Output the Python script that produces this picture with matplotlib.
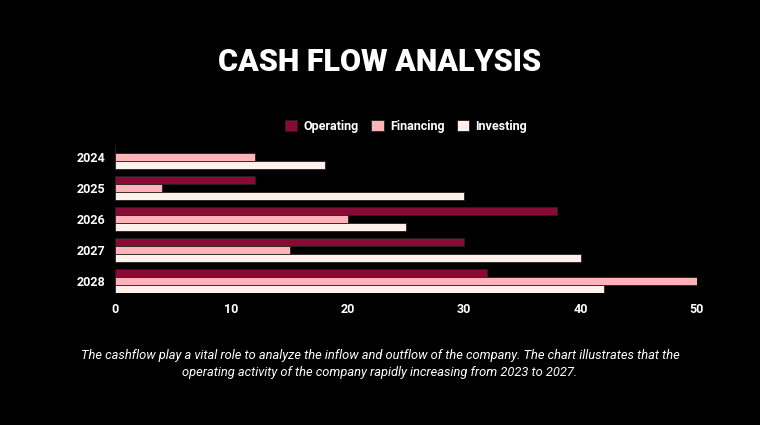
import matplotlib.pyplot as plt
import numpy as np

years = ['2024', '2025', '2026', '2027', '2028']
operating = [0, 12, 38, 30, 32]
financing = [12, 4, 20, 15, 50]
investing = [18, 30, 25, 40, 42]

colors = {'Operating': '#8a0a36', 'Financing': '#ffb3b8', 'Investing': '#fff0ea'}

plt.rcParams['font.family'] = ['Roboto', 'DejaVu Sans']
fig = plt.figure(figsize=(7.6, 4.25), dpi=100, facecolor='black')
ax = fig.add_axes([115 / 760, 1 - 293 / 425, 582 / 760, 148.8 / 425])
ax.set_facecolor('black')

y = np.arange(len(years))
h = 0.26
for off, (name, vals) in zip([-h, 0, h], [('Operating', operating), ('Financing', financing), ('Investing', investing)]):
    ax.barh(y + off, vals, height=h, color=colors[name], edgecolor='#222222', linewidth=0.6, label=name)

ax.set_ylim(4.4, -0.4)
ax.set_xlim(0, 50)
ax.set_yticks(y)
ax.set_yticklabels(years)
ax.set_xticks([0, 10, 20, 30, 40, 50])
ax.tick_params(colors='white', length=0, labelsize=9, pad=7)
for lbl in ax.get_xticklabels() + ax.get_yticklabels():
    lbl.set_fontweight('bold')
for s in ax.spines.values():
    s.set_visible(False)

leg = ax.legend(loc='lower center', bbox_to_anchor=(0.5, 1.0), ncol=3, frameon=False,
                handlelength=1.0, handleheight=1.0, columnspacing=1.0, handletextpad=0.5,
                prop={'weight': 'bold', 'size': 9})
for t in leg.get_texts():
    t.set_color('white')

fig.text(0.5, 1 - 62 / 425, 'CASH FLOW ANALYSIS', color='white', fontsize=22, fontweight='black',
         ha='center', va='center', fontstretch='condensed')
fig.text(0.5, 1 - 364 / 425,
         'The cashflow play a vital role to analyze the inflow and outflow of the company. The chart illustrates that the\n'
         'operating activity of the company rapidly increasing from 2023 to 2027.',
         color='white', fontsize=9.3, style='italic', ha='center', va='center', linespacing=1.45)

fig.savefig('out.png', dpi=100, facecolor='black')
